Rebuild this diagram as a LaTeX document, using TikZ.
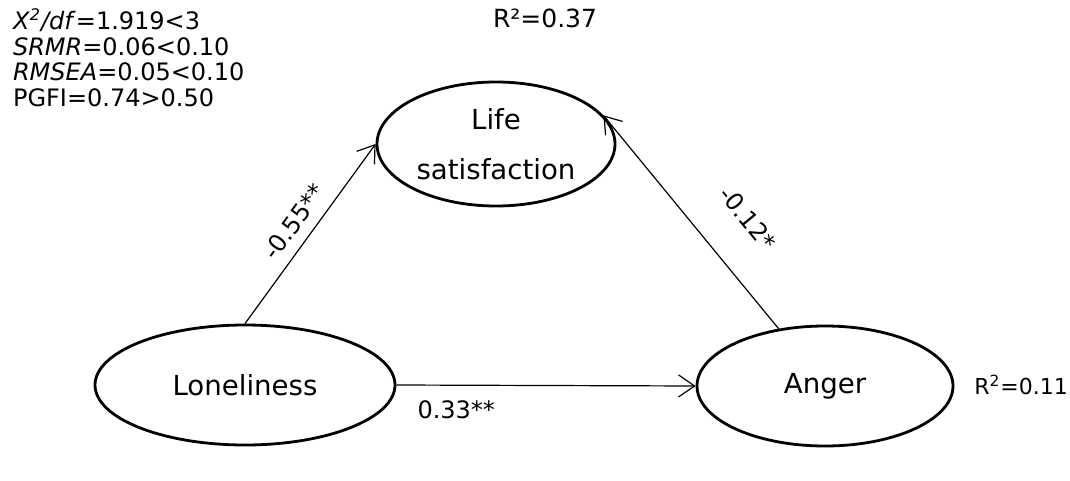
\documentclass[tikz,border=0pt]{standalone}
\usepackage{fontspec}
\setmainfont{DejaVu Sans}
\usetikzlibrary{arrows.meta,positioning,shapes.geometric}

\tikzset{
	latent/.style={draw,ellipse,line width=1.4pt,inner sep=0pt,font=\fontsize{13.8}{25}\selectfont,align=center},
	effect/.style={line width=0.6pt,-{Straight Barb[length=8pt,width=11pt]}},
	coef/.style={font=\fontsize{12}{15}\selectfont}
}

\begin{document}
\begin{tikzpicture}[x=0.5pt,y=-0.5pt]
		
		\useasboundingbox
		(0,0) rectangle (1070,481);
		
		\node[latent,minimum width=119pt,minimum height=62pt]
		(life) at (496,144)
		{Life\\satisfaction};
		
		\node[latent,minimum width=150pt,minimum height=60pt]
		(lone) at (245,385)
		{Loneliness};
		
		\node[latent,minimum width=128pt,minimum height=60pt]
		(anger) at (825,386)
		{Anger};
		
		\node[coef,anchor=north west,align=left,font=\fontsize{12}{12.8}\selectfont]
		(fit) at (6,2)
		{\textit{X}\textsuperscript{\textit{2}}\textit{/df}=1.919<3\\
		\textit{SRMR}=0.06<0.10\\
		\textit{RMSEA}=0.05<0.10\\
		PGFI=0.74>0.50};
		
		\node[coef,font=\fontsize{12.5}{15}\selectfont]
		(rlife) at (545,18)
		{R²=0.37};
		
		\node[coef,anchor=west,inner sep=0pt,font=\fontsize{11}{13}\selectfont]
		(ranger) at (974,385)
		{R\textsuperscript{2}=0.11};
		
		\draw[effect]
		(lone.north) -- node[coef,midway,above=2pt,sloped] {-0.55**}
		(life.west);
		
		\draw[effect]
		(anger.129) -- node[coef,pos=0.38,above=15pt,sloped] {-0.12*}
		(life.15);
		
		\draw[effect]
		(lone.east) -- node[coef,pos=0.2,below=4pt] {0.33**}
		(anger.west);
		
	\end{tikzpicture}
\end{document}
